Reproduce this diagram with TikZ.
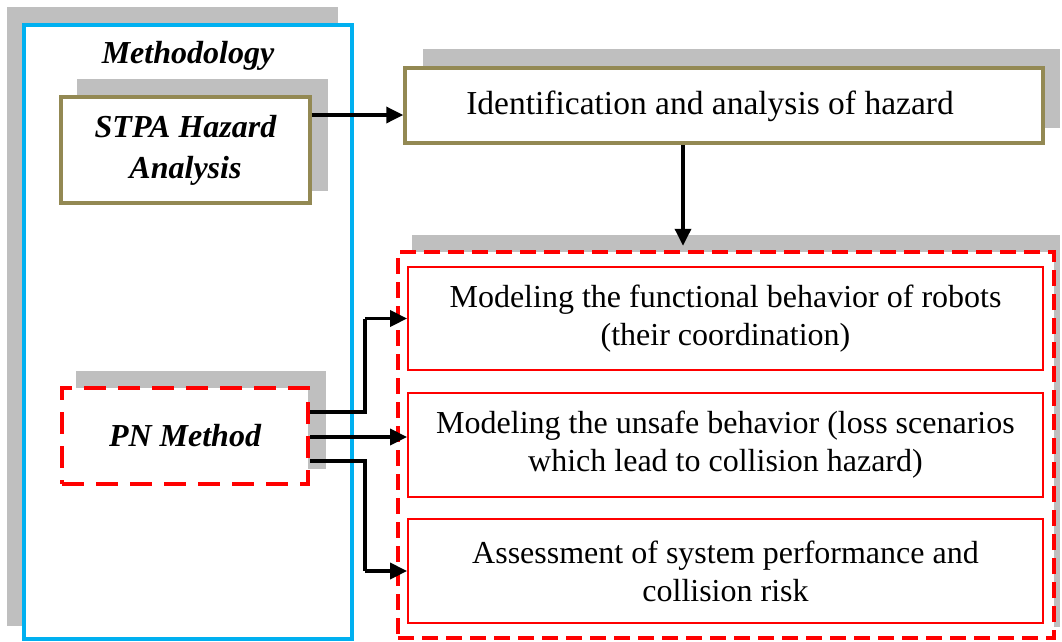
\documentclass[tikz,border=0pt]{standalone}
\usepackage{fontspec}
\setmainfont{Liberation Serif}
\usetikzlibrary{arrows.meta}
\definecolor{shadowgray}{HTML}{BFBFBF}
\definecolor{bluebox}{HTML}{00B0F0}
\definecolor{olive}{HTML}{938953}
\definecolor{redbox}{HTML}{FF0000}
\begin{document}
\begin{tikzpicture}[x=1pt,y=-1pt,
  every node/.style={font=\fontsize{32}{38}\selectfont, inner sep=0pt, align=center},
  shadowfill/.style={fill=shadowgray},
  bluestyle/.style={draw=bluebox, line width=3.2pt, fill=white, rectangle},
  olivestyle/.style={draw=olive, line width=3.5pt, fill=white, rectangle},
  reddash/.style={draw=redbox, line width=4.5pt, dash pattern=on 16pt off 8pt, fill=white, rectangle},
  reddashpn/.style={draw=redbox, line width=4.5pt, dash pattern=on 22pt off 12pt, fill=white, rectangle},
  redthin/.style={draw=redbox, line width=1.8pt, fill=white, rectangle},
  arr/.style={draw=black, line width=3.5pt, -{Triangle[length=17pt,width=16pt]}},
  lbl/.style={font=\fontsize{32}{38}\selectfont\bfseries\itshape}
]
\useasboundingbox (0,0) rectangle (1062,641);
% Methodology container
\fill[shadowfill] (7,7) rectangle (338,626);
\node[bluestyle, minimum width=328pt, minimum height=614pt] (meth) at (188,332) {};
\node[lbl, anchor=base] (methlbl) at (188,63) {Methodology};
% STPA
\fill[shadowfill] (77,79) rectangle (328,191);
\node[olivestyle, minimum width=249pt, minimum height=106pt, lbl] (stpa) at (185.5,150) {STPA Hazard\\[3pt]Analysis};
% PN
\fill[shadowfill] (76,371) rectangle (326,469);
\node[reddashpn, minimum width=246pt, minimum height=96pt, lbl] (pn) at (185,436) {PN Method};
% Identification
\fill[shadowfill] (423,49) rectangle (1060,128);
\node[olivestyle, minimum width=638pt, minimum height=75pt] (id) at (724,105.5) {};
\node[font=\fontsize{33.5}{38}\selectfont] (idlbl) at (710,106) {Identification and analysis of hazard};
% Red outer
\fill[shadowfill] (412,235) rectangle (1060,627);
\node[reddash, minimum width=656pt, minimum height=386pt] (outer) at (726,445) {};
\node[redthin, minimum width=635pt, minimum height=103pt] (b1) at (725.5,318.5) {Modeling the functional behavior of robots\\(their coordination)};
\node[redthin, minimum width=635pt, minimum height=104pt] (b2) at (725.5,445) {Modeling the unsafe behavior (loss scenarios\\which lead to collision hazard)};
\node[redthin, minimum width=635pt, minimum height=104pt] (b3) at (725.5,571) {Assessment of system performance and\\collision risk};
% connectors
\coordinate (dx) at (683,0);
\coordinate (jx) at (365,0);
\draw[arr] ([yshift=35pt]stpa.east) -- ([yshift=35pt]stpa.east -| id.west);
\draw[arr] (id.south -| dx) -- ([yshift=4pt]outer.north -| dx);
\draw[arr, -] ([yshift=24pt]pn.east) -| (jx |- b1.west);
\draw[arr] (jx |- b1.west) -- (b1.west);
\draw[arr] ([yshift=-1pt]pn.east) -- ([yshift=-1pt]pn.east -| b2.west);
\draw[arr, -] ([yshift=-25pt]pn.east) -| (jx |- b3.west);
\draw[arr] (jx |- b3.west) -- (b3.west);
\end{tikzpicture}
\end{document}
